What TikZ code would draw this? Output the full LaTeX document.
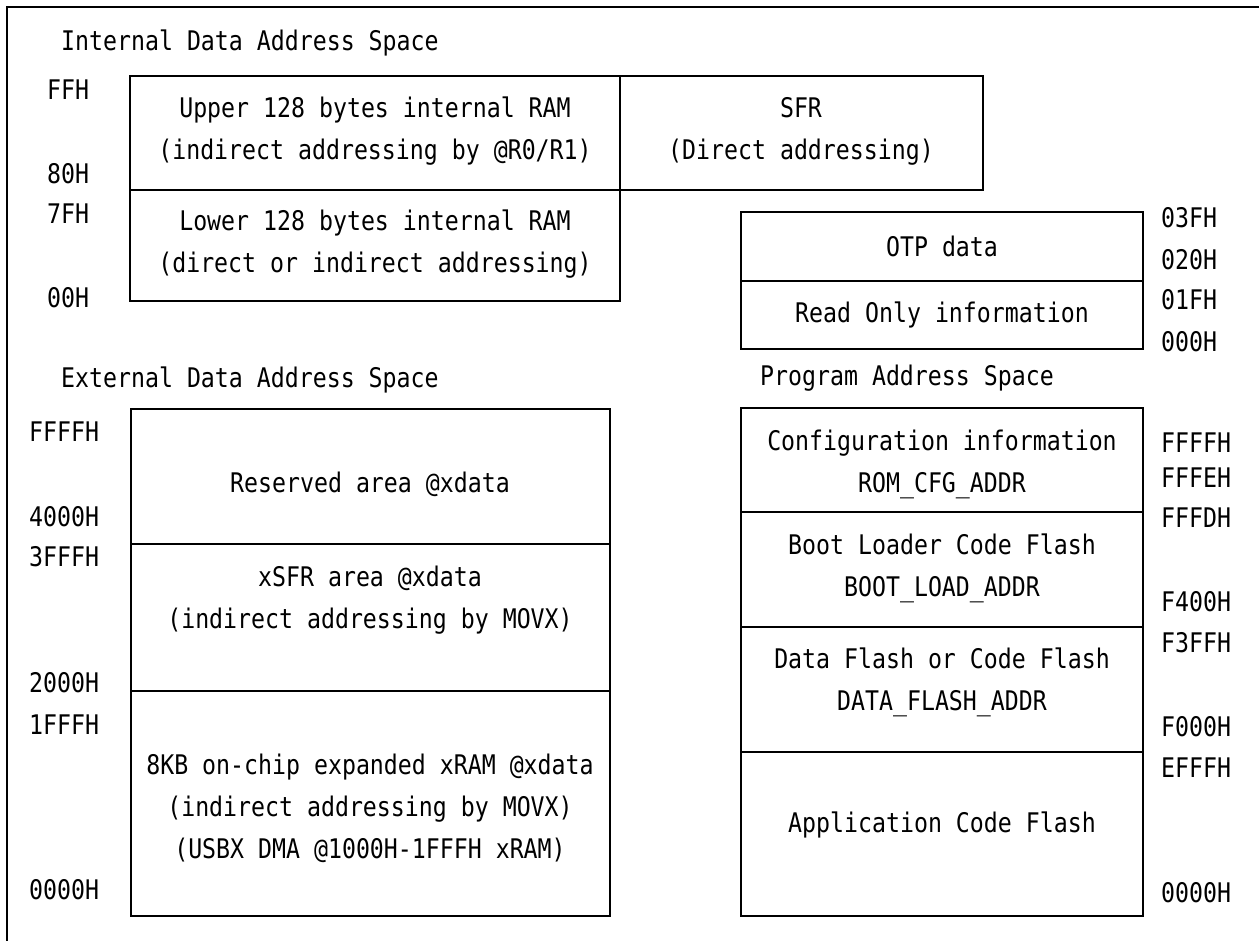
\documentclass[tikz,border=0pt]{standalone}
\usepackage{fontspec}
\setmainfont{DejaVu Sans Mono}[FakeStretch=0.86]
\usetikzlibrary{positioning}

\begin{document}
\begin{tikzpicture}[x=1pt,y=-1pt,
  font=\fontsize{27}{42}\selectfont,
  region/.style={draw,line width=1.5pt,inner sep=0pt,outer sep=0pt,anchor=north west},
  regiontext/.style={align=center,inner sep=0pt},
  addr/.style={anchor=west,inner sep=0pt},
  spacetitle/.style={anchor=west,inner sep=0pt}]

  \useasboundingbox (0,0) rectangle (1259,941);
  \draw[line width=2.3pt] (7,941) -- (7,7) -- (1259,7);

  % internal data
  \node[spacetitle] (inttitle) at (61,43) {Internal Data Address Space};
  \node[region,minimum width=490,minimum height=114] (up128) at (130,76) {};
  \node[region,minimum width=490,minimum height=111,
    below=0pt of up128.south west,anchor=north west] (low128) {};
  \node[region,minimum width=363,minimum height=114,
    right=0pt of up128.north east,anchor=north west] (sfr) {};
  \node[regiontext] (up128txt) at (375,131) {Upper 128 bytes internal RAM\\(indirect addressing by @R0/R1)};
  \node[regiontext] (low128txt) at (375,244) {Lower 128 bytes internal RAM\\(direct or indirect addressing)};
  \node[regiontext] (sfrtxt) at (801,131) {SFR\\(Direct addressing)};
  \node[addr] (iffh) at (47,90) {FFH};
  \node[addr] (i80h) at (47,174) {80H};
  \node[addr] (i7fh) at (47,214) {7FH};
  \node[addr] (i00h) at (47,298) {00H};

  % otp / read only
  \node[region,minimum width=402,minimum height=69] (otp) at (741,212) {};
  \node[region,minimum width=402,minimum height=68,
    below=0pt of otp.south west,anchor=north west] (roinfo) {};
  \node[regiontext] (otptxt) at (otp.center) {OTP data};
  \node[regiontext] (roinfotxt) at (roinfo.center) {Read Only information};
  \node[addr] (o03f) at (1161,218) {03FH};
  \node[addr] (o020) at (1161,260) {020H};
  \node[addr] (o01f) at (1161,300) {01FH};
  \node[addr] (o000) at (1161,342) {000H};

  % external data
  \node[spacetitle] (exttitle) at (61,380) {External Data Address Space};
  \node[region,minimum width=479,minimum height=135] (xres) at (131,409) {};
  \node[region,minimum width=479,minimum height=147,
    below=0pt of xres.south west,anchor=north west] (xsfr) {};
  \node[region,minimum width=479,minimum height=225,
    below=0pt of xsfr.south west,anchor=north west] (xram) {};
  \node[regiontext] (xrestxt) at (370,484) {Reserved area @xdata};
  \node[regiontext] (xsfrtxt) at (370,600) {xSFR area @xdata\\(indirect addressing by MOVX)};
  \node[regiontext] (xramtxt) at (370,808) {8KB on-chip expanded xRAM @xdata\\(indirect addressing by MOVX)\\(USBX DMA @1000H-1FFFH xRAM)};
  \node[addr] (xffff) at (29,432) {FFFFH};
  \node[addr] (x4000) at (29,517) {4000H};
  \node[addr] (x3fff) at (29,557) {3FFFH};
  \node[addr] (x2000) at (29,683) {2000H};
  \node[addr] (x1fff) at (29,725) {1FFFH};
  \node[addr] (x0000) at (29,890) {0000H};

  % program
  \node[spacetitle] (progtitle) at (760,378) {Program Address Space};
  \node[region,minimum width=402,minimum height=104] (cfg) at (741,408) {};
  \node[region,minimum width=402,minimum height=115,
    below=0pt of cfg.south west,anchor=north west] (boot) {};
  \node[region,minimum width=402,minimum height=125,
    below=0pt of boot.south west,anchor=north west] (dflash) {};
  \node[region,minimum width=402,minimum height=164,
    below=0pt of dflash.south west,anchor=north west] (appcode) {};
  \node[regiontext] (cfgtxt) at (942,464) {Configuration information\\ROM\_CFG\_ADDR};
  \node[regiontext] (boottxt) at (942,568) {Boot Loader Code Flash\\BOOT\_LOAD\_ADDR};
  \node[regiontext] (dflashtxt) at (942,682) {Data Flash or Code Flash\\DATA\_FLASH\_ADDR};
  \node[regiontext] (appcodetxt) at (942,825) {Application Code Flash};
  \node[addr] (pffff) at (1161,443) {FFFFH};
  \node[addr] (pfffe) at (1161,478) {FFFEH};
  \node[addr] (pfffd) at (1161,518) {FFFDH};
  \node[addr] (pf400) at (1161,602) {F400H};
  \node[addr] (pf3ff) at (1161,643) {F3FFH};
  \node[addr] (pf000) at (1161,727) {F000H};
  \node[addr] (pefff) at (1161,768) {EFFFH};
  \node[addr] (p0000) at (1161,893) {0000H};
\end{tikzpicture}
\end{document}
